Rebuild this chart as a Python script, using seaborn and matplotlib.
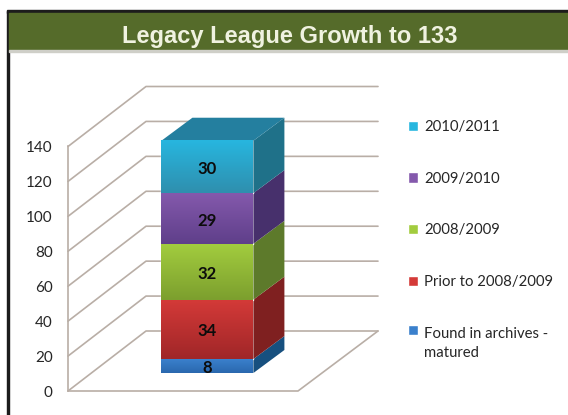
import matplotlib
matplotlib.use('Agg')
import matplotlib.pyplot as plt
from matplotlib.colors import LinearSegmentedColormap
from matplotlib.patches import Rectangle
import numpy as np
import pandas as pd
import seaborn as sns

# Data
series = ['Found in archives -\nmatured', 'Prior to 2008/2009', '2008/2009', '2009/2010', '2010/2011']
values = [8, 34, 32, 29, 30]
y_ticks = [0, 20, 40, 60, 80, 100, 120, 140]
title = 'Legacy League Growth to 133'

# Colours per series
face_top = ['#3a80cc', '#d43a38', '#a2cc3e', '#8459ac', '#27b6df']
face_bottom = ['#2a68ae', '#a02628', '#7c9f2e', '#5f3f8a', '#2f8fae']
side_color = ['#17507f', '#7f2020', '#5d7a2b', '#47306c', '#1f7189']
top_color = '#247f9f'
grid_color = '#b9aea6'
text_color = '#262626'

W, H = 568, 415
sns.set_theme(style='white')
plt.rcParams['font.family'] = ['Lato', 'DejaVu Sans']

fig = plt.figure(figsize=(W / 100, H / 100), dpi=100, facecolor='white')

# Frame and header band
fig.add_artist(Rectangle((7 / W, 0), 2.5 / W, 1 - 11 / H, transform=fig.transFigure, color='#1c1c1c'))
fig.add_artist(Rectangle((7 / W, 1 - 13 / H), 1 - 7 / W, 2.5 / H, transform=fig.transFigure, color='#1c1c1c'))
fig.add_artist(Rectangle((9 / W, 1 - 50 / H), 1 - 9 / W, 37 / H, transform=fig.transFigure, color='#556b2a'))
fig.add_artist(Rectangle((9 / W, 1 - 52 / H), 1 - 9 / W, 2 / H, transform=fig.transFigure, color='#cfcfc8'))
fig.text(290 / W, 1 - 36.5 / H, title, ha='center', va='center', color='#f0f2e0',
         fontsize=17, fontweight='bold', family='Liberation Sans')

# Axis plane, the walls are drawn from this one
box = [68 / W, 24 / H, 230 / W, 244.5 / H]
ax_wall = fig.add_axes(box)
ax_wall.set_xlim(-0.5, 0.5)
ax_wall.set_ylim(0, 140)
ax_wall.patch.set_alpha(0)

depth_x = 78 / 230
depth_y = 60 / (244.5 / 140)
right_x = -0.5 + 310 / 230
for t in y_ticks:
    ax_wall.plot([-0.5, -0.5 + depth_x, right_x], [t, t + depth_y, t + depth_y],
                 color=grid_color, lw=1.2, clip_on=False)
ax_wall.plot([-0.5, 0.5, right_x], [0, 0, depth_y], color=grid_color, lw=1.2, clip_on=False)

sns.despine(ax=ax_wall, bottom=True, right=True, top=True)
ax_wall.spines['left'].set_color(grid_color)
ax_wall.spines['left'].set_linewidth(1.2)
ax_wall.set_xticks([])
ax_wall.set_yticks(y_ticks)
ax_wall.tick_params(axis='y', length=0, pad=11, labelsize=11, labelcolor=text_color)

# Bar front plane sits 30% of the way into the floor
ax_bar = fig.add_axes([box[0] + (0.3 * 78 + 1) / W, box[1] + 0.3 * 60 / H, box[2], box[3]])
ax_bar.patch.set_alpha(0)
ax_bar.axis('off')

df = pd.DataFrame({'group': ['all'] * len(values), 'series': series, 'value': values})
bottoms = np.concatenate([[0], np.cumsum(values)[:-1]])

bar_dx = 31 / 230
bar_dy = 23 / (244.5 / 140)
for i, row in df.iterrows():
    before = len(ax_bar.patches)
    sns.barplot(data=df.iloc[[i]], x='group', y='value', bottom=bottoms[i], width=0.4,
                color=face_top[i], saturation=1, label=row['series'], ax=ax_bar, zorder=3)
    patch = ax_bar.patches[before]
    x0, x1 = patch.get_x(), patch.get_x() + patch.get_width()
    y0, y1 = patch.get_y(), patch.get_y() + patch.get_height()

    # front gradient
    cmap = LinearSegmentedColormap.from_list('face', [face_bottom[i], face_top[i]])
    ax_bar.imshow(np.linspace(0, 1, 64).reshape(-1, 1), extent=(x0, x1, y0, y1), origin='lower',
                  cmap=cmap, aspect='auto', zorder=4)
    # side face
    ax_bar.fill([x1, x1 + bar_dx, x1 + bar_dx, x1], [y0, y0 + bar_dy, y1 + bar_dy, y1],
                color=side_color[i], lw=0, clip_on=False, zorder=3)
    ax_bar.annotate(str(row['value']), ((x0 + x1) / 2, (y0 + y1) / 2), xytext=(0, -1.5),
                    textcoords='offset points', ha='center', va='center',
                    color='#0c0c0c', fontsize=12, fontweight='bold', zorder=6)

# top face
top = sum(values)
ax_bar.fill([x0, x1, x1 + bar_dx, x0 + bar_dx], [top, top, top + bar_dy, top + bar_dy],
            color=top_color, lw=0, clip_on=False, zorder=3)

ax_bar.set_xlim(-0.5, 0.5)
ax_bar.set_ylim(0, 140)

handles, labels = ax_bar.get_legend_handles_labels()
leg = ax_bar.legend(handles[::-1], labels[::-1], loc='upper left', frameon=False,
                    bbox_to_anchor=(408 / W, 1 - 120 / H), bbox_transform=fig.transFigure,
                    fontsize=10.7, labelcolor=text_color, handlelength=0.7, handleheight=0.7,
                    handletextpad=0.4, labelspacing=2.54, borderpad=0, borderaxespad=0)
for t in leg.get_texts():
    t.set_linespacing(1.5)
# square of the two line entry sits on its first line
last = leg.legend_handles[-1]
last.set_y(last.get_y() + 10)

fig.savefig('out.png', dpi=100)
